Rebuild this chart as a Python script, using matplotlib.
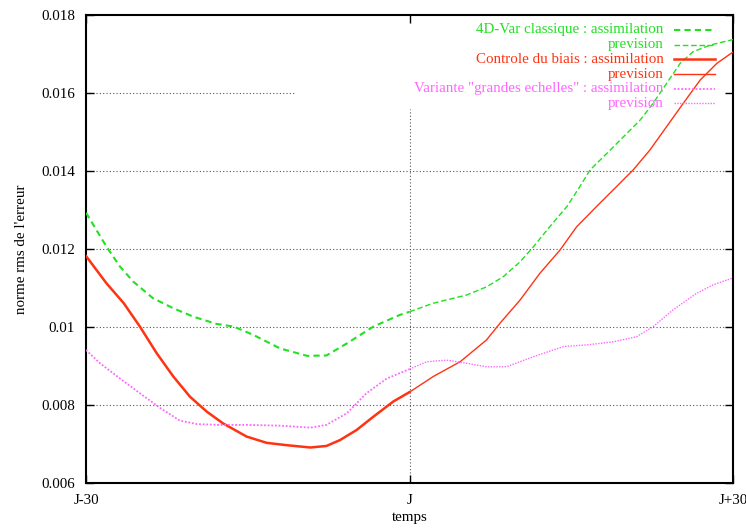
import numpy as np
import matplotlib
matplotlib.use("Agg")
from matplotlib import pyplot as plt
from matplotlib.lines import Line2D

# days relative to J, rms error norm
classic_assim_days = [-30, -28.1, -26.85, -25.6, -23.8, -21.9, -20.0, -17.9, -16.3, -14.5, -12.0, -9.5, -7.7, -5.8, -3.35, -0.9, 0]
classic_assim_vals = [0.01293, 0.01206, 0.01155, 0.01116, 0.01074, 0.01048, 0.01026, 0.01008, 0.01001, 0.00980, 0.00945, 0.00926, 0.00927, 0.00958, 0.01001, 0.01031, 0.01039]
classic_prev_days = [0, 2.2, 5.3, 7.15, 8.7, 10.25, 11.5, 13.0, 14.6, 15.8, 16.75, 18.3, 19.85, 21.4, 22.6, 23.85, 25.1, 26.3, 27.9, 30]
classic_prev_vals = [0.01039, 0.01061, 0.01082, 0.01103, 0.01129, 0.01167, 0.01206, 0.01257, 0.01309, 0.01360, 0.01403, 0.01445, 0.01488, 0.01531, 0.01574, 0.01625, 0.01676, 0.01706, 0.01723, 0.01737]

bias_assim_days = [-30, -28.1, -26.5, -25.0, -23.45, -21.9, -20.35, -18.8, -17.3, -15.1, -13.25, -11.4, -9.2, -7.7, -6.45, -4.9, -3.35, -1.5, 0]
bias_assim_vals = [0.01182, 0.01112, 0.01061, 0.01001, 0.00933, 0.00873, 0.00821, 0.00783, 0.00753, 0.00719, 0.00703, 0.00697, 0.00691, 0.00695, 0.00710, 0.00736, 0.00770, 0.00809, 0.00833]
bias_prev_days = [0, 2.2, 4.7, 7.15, 8.4, 10.25, 12.1, 13.95, 15.5, 17.35, 19.2, 20.75, 22.3, 23.85, 25.4, 26.95, 28.5, 30]
bias_prev_vals = [0.00833, 0.00873, 0.00911, 0.00967, 0.01010, 0.01069, 0.01138, 0.01197, 0.01257, 0.01309, 0.01360, 0.01403, 0.01454, 0.01514, 0.01574, 0.01633, 0.01676, 0.01705]

large_assim_days = [-30, -28.7, -26.85, -25.0, -23.1, -21.3, -19.7, -17.6, -15.1, -12.0, -9.2, -7.7, -5.8, -4.0, -2.1, 0]
large_assim_vals = [0.00941, 0.00907, 0.00868, 0.00830, 0.00792, 0.00760, 0.00751, 0.00749, 0.00749, 0.00747, 0.00742, 0.00749, 0.00779, 0.00830, 0.00868, 0.00892]
large_prev_days = [0, 1.6, 3.45, 5.3, 7.15, 9.0, 11.5, 14.3, 16.4, 18.9, 21.05, 22.6, 24.45, 26.6, 28.15, 30]
large_prev_vals = [0.00892, 0.00911, 0.00915, 0.00907, 0.00898, 0.00898, 0.00924, 0.00950, 0.00954, 0.00962, 0.00975, 0.01001, 0.01044, 0.01086, 0.01108, 0.01126]

x_ticks = [-30, 0, 30]
x_tick_labels = ["J-30", "J", "J+30"]
y_ticks = [0.006, 0.008, 0.01, 0.012, 0.014, 0.016, 0.018]
y_tick_labels = ["0.006", "0.008", "0.01", "0.012", "0.014", "0.016", "0.018"]

legend_labels = ["4D-Var classique : assimilation", "prevision",
                 "Controle du biais : assimilation", "prevision",
                 'Variante "grandes echelles" : assimilation', "prevision"]

green = "#22e022"
red = "#ff3311"
magenta = "#ff66ff"

plt.rcParams["font.family"] = ["Liberation Serif", "DejaVu Serif"]
plt.rcParams["font.size"] = 10.8

fig = plt.figure(figsize=(7.46, 5.28), dpi=100)
ax = fig.add_axes([86 / 746, 1 - 483 / 528, (733 - 86) / 746, (483 - 15) / 528])

# grid (gnuplot style, hidden behind the key)
grid_kw = dict(color="#555555", linewidth=0.8, linestyle=(0, (1, 2)), zorder=1)
for v in [0.008, 0.01, 0.012, 0.014]:
    ax.axhline(v, **grid_kw)
ax.plot([-30, -10.6], [0.016, 0.016], **grid_kw)
ax.plot([0, 0], [0.006, 0.0156], **grid_kw)

styles = [
    (classic_assim_days, classic_assim_vals, green, 1.5, (0, (3, 2))),
    (classic_prev_days, classic_prev_vals, green, 1.0, (0, (4, 2))),
    (bias_assim_days, bias_assim_vals, red, 1.8, "-"),
    (bias_prev_days, bias_prev_vals, red, 1.0, "-"),
    (large_assim_days, large_assim_vals, magenta, 1.3, (0, (1, 1))),
    (large_prev_days, large_prev_vals, magenta, 1.0, (0, (1, 1))),
]
for (d, v, c, lw, ls) in styles:
    ax.plot(d, v, color=c, linewidth=lw, linestyle=ls, zorder=3)

# key, right-aligned like gnuplot
for i, ((d, v, c, lw, ls), lab) in enumerate(zip(styles, legend_labels)):
    yk = 0.968 - i * 0.0314
    ax.text(0.893, yk, lab, color=c, ha="right", va="center", transform=ax.transAxes)
    ax.add_line(Line2D([0.909, 0.972], [yk, yk], color=c, linewidth=lw, linestyle=ls,
                       transform=ax.transAxes, zorder=4))

ax.set_xlim(-30, 30)
ax.set_ylim(0.006, 0.018)
ax.set_xticks(x_ticks)
ax.set_xticklabels(x_tick_labels)
ax.set_yticks(y_ticks)
ax.set_yticklabels(y_tick_labels)
ax.tick_params(direction="in", top=True, right=True, length=6, width=1)
ax.tick_params(axis="y", pad=8)
ax.tick_params(axis="x", pad=8)
for s in ax.spines.values():
    s.set_linewidth(1.5)

ax.set_xlabel("temps", labelpad=3)
ax.set_ylabel("norme rms de l'erreur", labelpad=9)

fig.savefig("out.png", dpi=100)
